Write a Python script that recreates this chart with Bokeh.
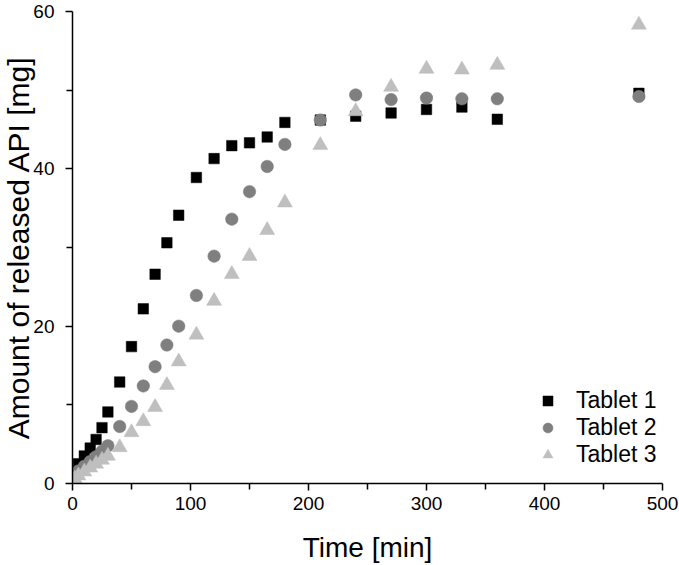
from bokeh.plotting import figure
from bokeh.models import Range1d, FixedTicker, Legend, LegendItem, ColumnDataSource, Title
from bokeh.embed import file_html
from bokeh.resources import INLINE

time_min = [2, 5, 10, 15, 20, 25, 30, 40, 50, 60, 70, 80, 90, 105, 120, 135,
            150, 165, 180, 210, 240, 270, 300, 330, 360, 480]
tablet1 = [1.6, 2.5, 3.5, 4.5, 5.6, 7.1, 9.1, 12.9, 17.4, 22.2, 26.6, 30.6, 34.1,
           38.9, 41.3, 42.95, 43.3, 44.05, 45.9, 46.2, 46.7, 47.1, 47.55, 47.85,
           46.3, 49.6]
tablet2 = [1.0, 1.6, 2.2, 2.8, 3.4, 4.1, 4.8, 7.25, 9.8, 12.4, 14.85, 17.6, 20.0,
           23.9, 28.9, 33.6, 37.1, 40.3, 43.1, 46.2, 49.4, 48.8, 49.0, 48.9,
           48.9, 49.2]
tablet3 = [0.6, 1.0, 1.5, 2.0, 2.5, 3.0, 3.5, 4.6, 6.5, 7.9, 9.7, 12.5, 15.5,
           18.9, 23.2, 26.6, 28.9, 32.2, 35.7, 43.0, 47.3, 50.4, 52.7, 52.6,
           53.2, 58.3]
series_names = ["Tablet 1", "Tablet 2", "Tablet 3"]
x_label = "Time [min]"
y_label = "Amount of released API [mg]"
x_ticks = [0, 100, 200, 300, 400, 500]
x_minor = [50, 150, 250, 350, 450]
y_ticks = [0, 20, 40, 60]
y_minor = [10, 30, 50]

FONT = "Liberation Sans"
W, H = 679, 565
ML, MR, MT, MB = 72, 17, 11, 81

p = figure(width=W, height=H, output_backend="svg", toolbar_location=None,
           x_range=Range1d(0, 500), y_range=Range1d(0, 60),
           min_border_left=ML, min_border_right=MR, min_border_top=MT,
           min_border_bottom=MB)
p.outline_line_color = None
p.xgrid.visible = False
p.ygrid.visible = False

src = ColumnDataSource(dict(t=time_min, a=tablet1, b=tablet2, c=tablet3))
r1 = p.scatter("t", "a", source=src, marker="square", size=10.5,
               fill_color="#000000", line_color="#000000", line_width=0.5)
r2 = p.scatter("t", "b", source=src, marker="circle", size=12.5,
               fill_color="#7f7f7f", line_color="#7f7f7f", line_width=0.5)
r3 = p.scatter("t", "c", source=src, marker="triangle", size=15,
               fill_color="#bfbfbf", line_color="#bfbfbf", line_width=0.5)

for ax, maj, mnr in ((p.xaxis[0], x_ticks, x_minor), (p.yaxis[0], y_ticks, y_minor)):
    ax.ticker = FixedTicker(ticks=maj, minor_ticks=mnr)
    ax.axis_line_width = 1.5
    ax.axis_line_color = "#000000"
    ax.major_tick_line_width = 1.5
    ax.minor_tick_line_width = 1.5
    ax.major_tick_line_color = "#000000"
    ax.minor_tick_line_color = "#000000"
    ax.major_tick_out = 7
    ax.major_tick_in = 0
    ax.minor_tick_out = 6
    ax.minor_tick_in = 0
    ax.major_label_text_font = FONT
    ax.major_label_text_font_size = "19px"
    ax.major_label_text_color = "#000000"
    ax.axis_label_text_font = FONT
    ax.axis_label_text_font_style = "normal"
    ax.axis_label_text_color = "#000000"

p.xaxis.major_label_standoff = 6
p.yaxis.major_label_standoff = 11
p.xaxis.axis_label = x_label
p.xaxis.axis_label_text_font_size = "28px"
p.xaxis.axis_label_standoff = 19

yt = Title(text=y_label, align="center", text_font=FONT,
           text_font_size="30px",
           text_font_style="normal", text_color="#000000", standoff=-8, offset=0)
p.add_layout(yt, "left")

legend = Legend(items=[LegendItem(label=series_names[0], renderers=[r1]),
                       LegendItem(label=series_names[1], renderers=[r2]),
                       LegendItem(label=series_names[2], renderers=[r3])],
                location=(463, 15), orientation="vertical")
legend.border_line_color = None
legend.background_fill_alpha = 0
legend.padding = 0
legend.margin = 0
legend.spacing = -3
legend.glyph_width = 25
legend.glyph_height = 25
legend.label_height = 25
legend.label_standoff = 16
legend.label_text_font = FONT
legend.label_text_font_size = "23px"
legend.label_text_color = "#000000"
p.add_layout(legend, "center")

open("out.html", "w").write(file_html(p, INLINE))
